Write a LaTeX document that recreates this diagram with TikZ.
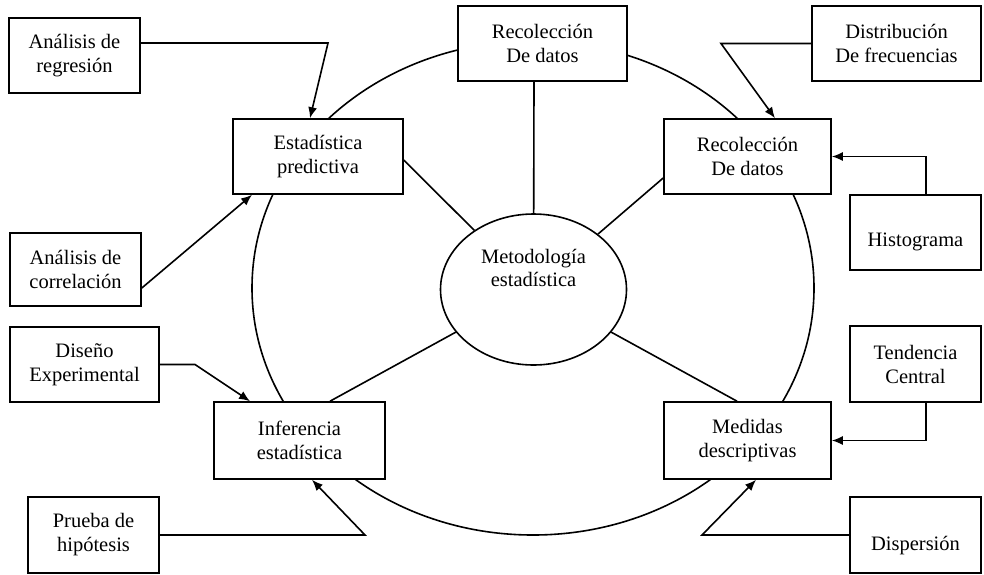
\documentclass[tikz,border=0pt]{standalone}
\usepackage{fontspec}
\setmainfont{Liberation Serif}
\usetikzlibrary{arrows.meta,shapes.geometric}
\tikzset{
  box/.style={draw, fill=white, line width=1.6pt, align=center, inner sep=0pt},
  conn/.style={line width=1.6pt},
  arr/.style={line width=1.6pt, -{Latex[length=11pt,width=9pt]}},
}
\begin{document}
\begin{tikzpicture}[x=1pt,y=-1pt, font=\fontsize{20.5}{24}\selectfont]
\useasboundingbox (0,0) rectangle (984,574);
% outer ring
\node[ellipse, draw, line width=1.6pt, minimum width=562pt, minimum height=494pt, inner sep=0pt] (ring) at (533,288) {};
% central ellipse
\node[ellipse, draw, fill=white, line width=1.6pt, minimum width=186pt, minimum height=151pt, inner sep=0pt, align=center] (meto) at (533.5,289.5) {\raisebox{3pt}[0pt][0pt]{\shortstack{Metodología\\[1pt]estadística}}};
% boxes
\node[box, minimum width=131pt, minimum height=75pt] (reg) at (74.5,55.5) {Análisis de\\regresión};
\node[box, minimum width=170pt, minimum height=75pt] (ep) at (318,156.5) {Estadística\\predictiva};
\node[box, minimum width=131pt, minimum height=73pt] (cor) at (75.5,269.5) {Análisis de\\correlación};
\node[box, minimum width=169pt, minimum height=75pt] (top) at (542.5,43.5) {Recolección\\De datos};
\node[box, minimum width=169pt, minimum height=75pt] (dist) at (896.5,43.5) {Distribución\\De frecuencias};
\node[box, minimum width=167pt, minimum height=75pt] (rd) at (747.5,156.5) {Recolección\\De datos};
\node[box, minimum width=131pt, minimum height=75pt] (hist) at (915.5,232.5) {\raisebox{-14pt}[0pt][0pt]{Histograma}};
\node[box, minimum width=149pt, minimum height=75pt] (dis) at (84.5,364.5) {Diseño\\Experimental};
\node[box, minimum width=171pt, minimum height=77pt] (inf) at (299.5,440.5) {Inferencia\\estadística};
\node[box, minimum width=131pt, minimum height=76pt] (pru) at (93.5,535) {Prueba de\\hipótesis};
\node[box, minimum width=167pt, minimum height=77pt] (med) at (747.5,440.5) {Medidas\\descriptivas};
\node[box, minimum width=131pt, minimum height=76pt] (ten) at (915.5,364) {Tendencia\\Central};
\node[box, minimum width=131pt, minimum height=76pt] (dsp) at (915.5,535) {\raisebox{-15pt}[0pt][0pt]{Dispersión}};
% spokes
\draw[conn] ([xshift=-8.5pt]top.south) -- (meto);
\draw[conn] ([yshift=-3.5pt]ep.east) -- (meto);
\draw[conn] ([yshift=-21.5pt]rd.west) -- (meto);
\draw[conn] ([xshift=30.5pt]inf.north) -- (meto);
\draw[conn] ([xshift=-10.5pt]med.north) -- (meto);
% bend points
\coordinate (k1) at (328,43);
\coordinate (k2) at (721,43.5);
\coordinate (k3) at (195,364.5);
\coordinate (k4) at (365,535);
\coordinate (k5) at (702,535);
% arrows
\draw[arr] (reg.east |- k1) -- (k1) -- ([xshift=-8pt]ep.north);
\draw[arr] ([yshift=-18.5pt]cor.east) -- ([xshift=-66pt]ep.south);
\draw[arr] (dist.west) -- (k2) -- ([xshift=27.5pt]rd.north);
\draw[arr] ([xshift=10.5pt]hist.north) |- (rd.east);
\draw[arr] (dis.east) -- (k3) -- ([xshift=-49.5pt]inf.north);
\draw[arr] (pru.east) -- (k4) -- ([xshift=12.5pt]inf.south);
\draw[arr] ([xshift=10.5pt]ten.south) |- (med.east);
\draw[arr] (dsp.west) -- (k5) -- ([xshift=8.5pt]med.south);
\end{tikzpicture}
\end{document}
